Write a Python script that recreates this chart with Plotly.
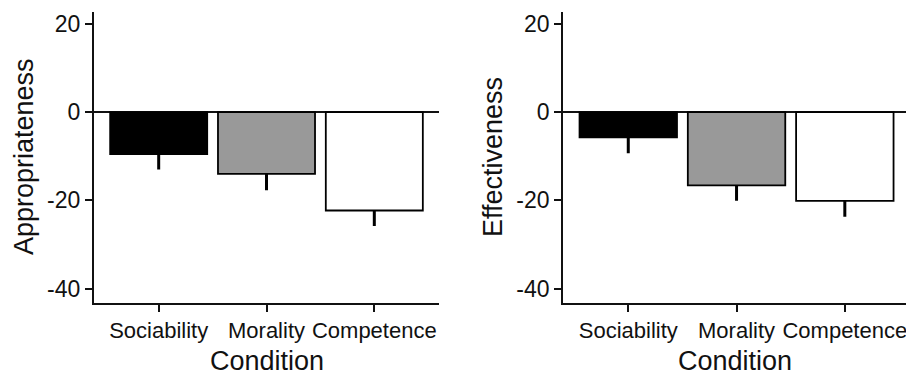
import plotly.graph_objects as go
from plotly.subplots import make_subplots

conditions = ["Sociability", "Morality", "Competence"]
bar_colors = ["#000000", "#999999", "#ffffff"]

appropriateness = [-9.5, -14.0, -22.3]
appropriateness_se = [3.5, 3.7, 3.5]

effectiveness = [-5.7, -16.6, -20.1]
effectiveness_se = [3.6, 3.5, 3.6]

y_ticks = [-40, -20, 0, 20]
y_tick_labels = ["-40", "-20", "0", "20"]

FONT = "Liberation Sans, Arial, Helvetica, sans-serif"
W, H = 906, 376

fig = make_subplots(rows=1, cols=2)

for col, (vals, se) in enumerate([(appropriateness, appropriateness_se),
                                  (effectiveness, effectiveness_se)], start=1):
    fig.add_trace(go.Bar(
        x=conditions, y=vals, width=0.9,
        marker=dict(color=bar_colors, line=dict(color="#000000", width=1.8)),
        error_y=dict(type="data", symmetric=False,
                     array=[0] * len(se), arrayminus=se,
                     color="#000000", thickness=3, width=0),
        showlegend=False,
    ), row=1, col=col)

axis_common = dict(showline=True, linecolor="#111111", linewidth=2.2,
                   ticks="outside", ticklen=7, tickwidth=1.8, tickcolor="#111111",
                   showgrid=False)
x_font = dict(family=FONT, size=22, color="#111111")
y_font = dict(family=FONT, size=23, color="#111111")

y_dom = [1 - 302.7 / H, 1 - 12 / H]
y_common = dict(domain=y_dom, range=[-43.2, 22.7], tickvals=y_ticks,
                ticktext=y_tick_labels, tickfont=y_font,
                zeroline=True, zerolinecolor="#111111", zerolinewidth=1.8,
                **axis_common)
fig.update_layout(
    width=W, height=H, margin=dict(l=0, r=0, t=0, b=0),
    paper_bgcolor="white", plot_bgcolor="white",
    bargap=0.1,
    xaxis=dict(domain=[94 / W, 439 / W], range=[-0.6, 2.6], tickfont=x_font, **axis_common),
    xaxis2=dict(domain=[563.3 / W, 1.0], range=[-0.6, 2.565], tickfont=x_font, **axis_common),
    yaxis=y_common,
    yaxis2=y_common,
)

title_font = dict(family=FONT, size=27, color="#111111")
annotations = [
    dict(text="Condition", x=(94 + 439) / 2 / W, y=1 - 361 / H),
    dict(text="Condition", x=(563.3 + 906) / 2 / W, y=1 - 361 / H),
    dict(text="Appropriateness", x=24 / W, y=1 - 157 / H, textangle=-90),
    dict(text="Effectiveness", x=493 / W, y=1 - 157 / H, textangle=-90),
]
for a in annotations:
    fig.add_annotation(xref="paper", yref="paper", showarrow=False,
                       xanchor="center", yanchor="middle", font=title_font, **a)

fig.write_html("out.html")
